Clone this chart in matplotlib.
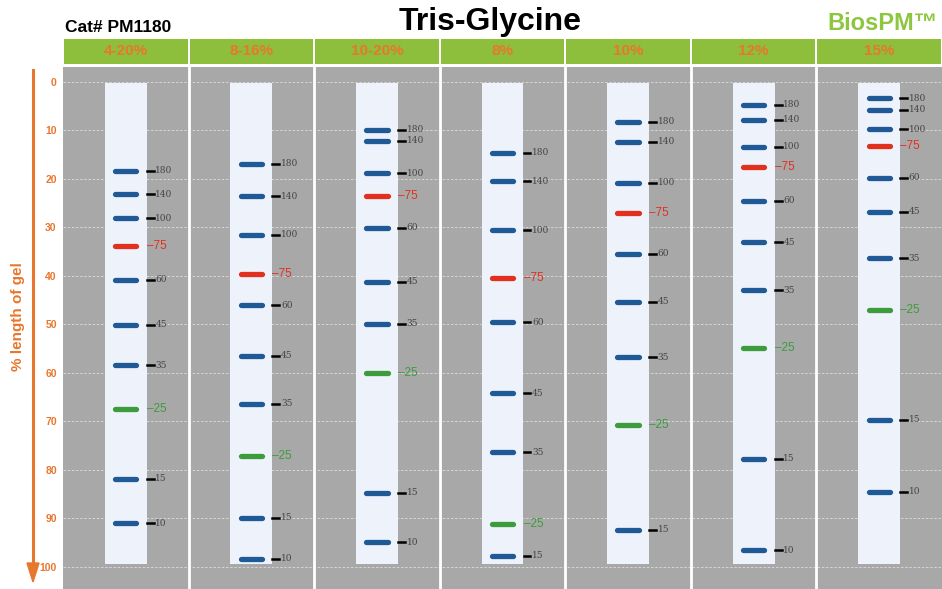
import matplotlib.pyplot as plt
from matplotlib.patches import Rectangle

# gel types and marker positions (% length of gel)
gels = ["4-20%", "8-16%", "10-20%", "8%", "10%", "12%", "15%"]

sizes_10 = ["180", "140", "100", "75", "60", "45", "35", "25", "15", "10"]
sizes_9 = ["180", "140", "100", "75", "60", "45", "35", "25", "15"]

pos_4_20 = [18.4, 23.2, 28.2, 34.0, 40.9, 50.1, 58.5, 67.4, 81.9, 91.0]
pos_8_16 = [16.9, 23.6, 31.6, 39.7, 46.1, 56.5, 66.4, 77.2, 89.9, 98.4]
pos_10_20 = [9.9, 12.2, 18.9, 23.6, 30.1, 41.3, 49.9, 60.1, 84.8, 95.0]
pos_8 = [14.7, 20.5, 30.6, 40.4, 49.6, 64.2, 76.4, 91.2, 97.7]
pos_10 = [8.3, 12.4, 20.9, 27.0, 35.5, 45.4, 56.8, 70.7, 92.4]
pos_12 = [4.8, 7.9, 13.4, 17.7, 24.6, 33.1, 43.0, 54.9, 77.8, 96.6]
pos_15 = [3.4, 5.8, 9.8, 13.2, 19.8, 26.8, 36.4, 47.0, 69.7, 84.6]

lanes = [
    (pos_4_20, sizes_10),
    (pos_8_16, sizes_10),
    (pos_10_20, sizes_10),
    (pos_8, sizes_9),
    (pos_10, sizes_9),
    (pos_12, sizes_10),
    (pos_15, sizes_10),
]

yticks = list(range(0, 101, 10))

orange = "#E8772E"
hdr_green = "#8DBE3C"
gray = "#A8A8A8"
strip = "#EEF2FA"
blue = "#1F5A96"
red = "#E2301E"
green = "#3C9C3C"

plt.rcParams['font.family'] = ['Liberation Sans', 'DejaVu Sans']

fig = plt.figure(figsize=(9.42, 5.89), dpi=100)
H = 589.0
ax = fig.add_axes([63 / 942, 0, 1 - 63 / 942, 1 - 67 / H])
ax.set_facecolor(gray)
ax.set_xlim(0, 7)
ax.set_ylim(104.6, -3.0)
for s in ax.spines.values():
    s.set_visible(False)
ax.set_xticks([])
ax.set_yticks(yticks)
ax.set_yticklabels([str(t) for t in yticks], color=orange, fontsize=7.5, fontweight='bold')
ax.tick_params(axis='y', length=0, pad=4.5)

# dashed white grid
for t in yticks:
    ax.axhline(t, color='white', lw=0.6, ls=(0, (3, 2)), alpha=0.6, zorder=1)

# column separators
for i in range(1, 7):
    ax.axvline(i, color='white', lw=2, zorder=2)

sw = 0.333
for i, (pos, labs) in enumerate(lanes):
    c = i + 0.5
    ax.add_patch(Rectangle((c - sw / 2, 0.2), sw, 99.3, facecolor=strip, edgecolor='none', zorder=3))
    for p, lab in zip(pos, labs):
        if lab == "75":
            col = red
        elif lab == "25":
            col = green
        else:
            col = blue
        ax.plot([c - 0.085, c + 0.085], [p, p], color=col, lw=3.8, solid_capstyle='round', zorder=4)
        if lab in ("75", "25"):
            ax.text(c + 0.168, p, "\u2013" + lab, color=col, fontsize=8.5, va='center', ha='left', zorder=5)
        else:
            ax.plot([c + 0.168, c + 0.222], [p, p], color='black', lw=1.8, zorder=4)
            ax.text(c + 0.236, p, lab, color='#444444', fontsize=6.5, va='center', ha='left',
                    family=['DejaVu Serif'], zorder=5)

# header row
for i, g in enumerate(gels):
    ax.add_patch(Rectangle((i + 0.008, -8.85), 0.984, 5.2, facecolor=hdr_green, edgecolor='none',
                           clip_on=False, zorder=3))
    ax.text(i + 0.5, -6.25, g, color=orange, fontsize=11, fontweight='bold', ha='center', va='center',
            clip_on=False)

# titles
fig.text(490 / 942, 1 - 22 / H, "Tris-Glycine", fontsize=23, fontweight='bold', ha='center', va='center')
fig.text(65 / 942, 1 - 28 / H, "Cat# PM1180", fontsize=12.5, fontweight='bold', ha='left', va='center')
fig.text(938 / 942, 1 - 23 / H, "BiosPM\u2122", fontsize=17, fontweight='bold', color="#8DC63F",
         ha='right', va='center')

# orange axis arrow
fig.add_artist(plt.Line2D([33 / 942, 33 / 942], [1 - 70 / H, 1 - 565 / H], color=orange, lw=2.2))
fig.add_artist(plt.Polygon([[27 / 942, 1 - 563 / H], [39 / 942, 1 - 563 / H], [33 / 942, 1 - 582 / H]],
                           closed=True, color=orange))
fig.text(18 / 942, 1 - 317 / H, "% length of gel", rotation=90, color=orange, fontsize=11,
         fontweight='bold', ha='center', va='center')

fig.savefig("out.png", dpi=100)
